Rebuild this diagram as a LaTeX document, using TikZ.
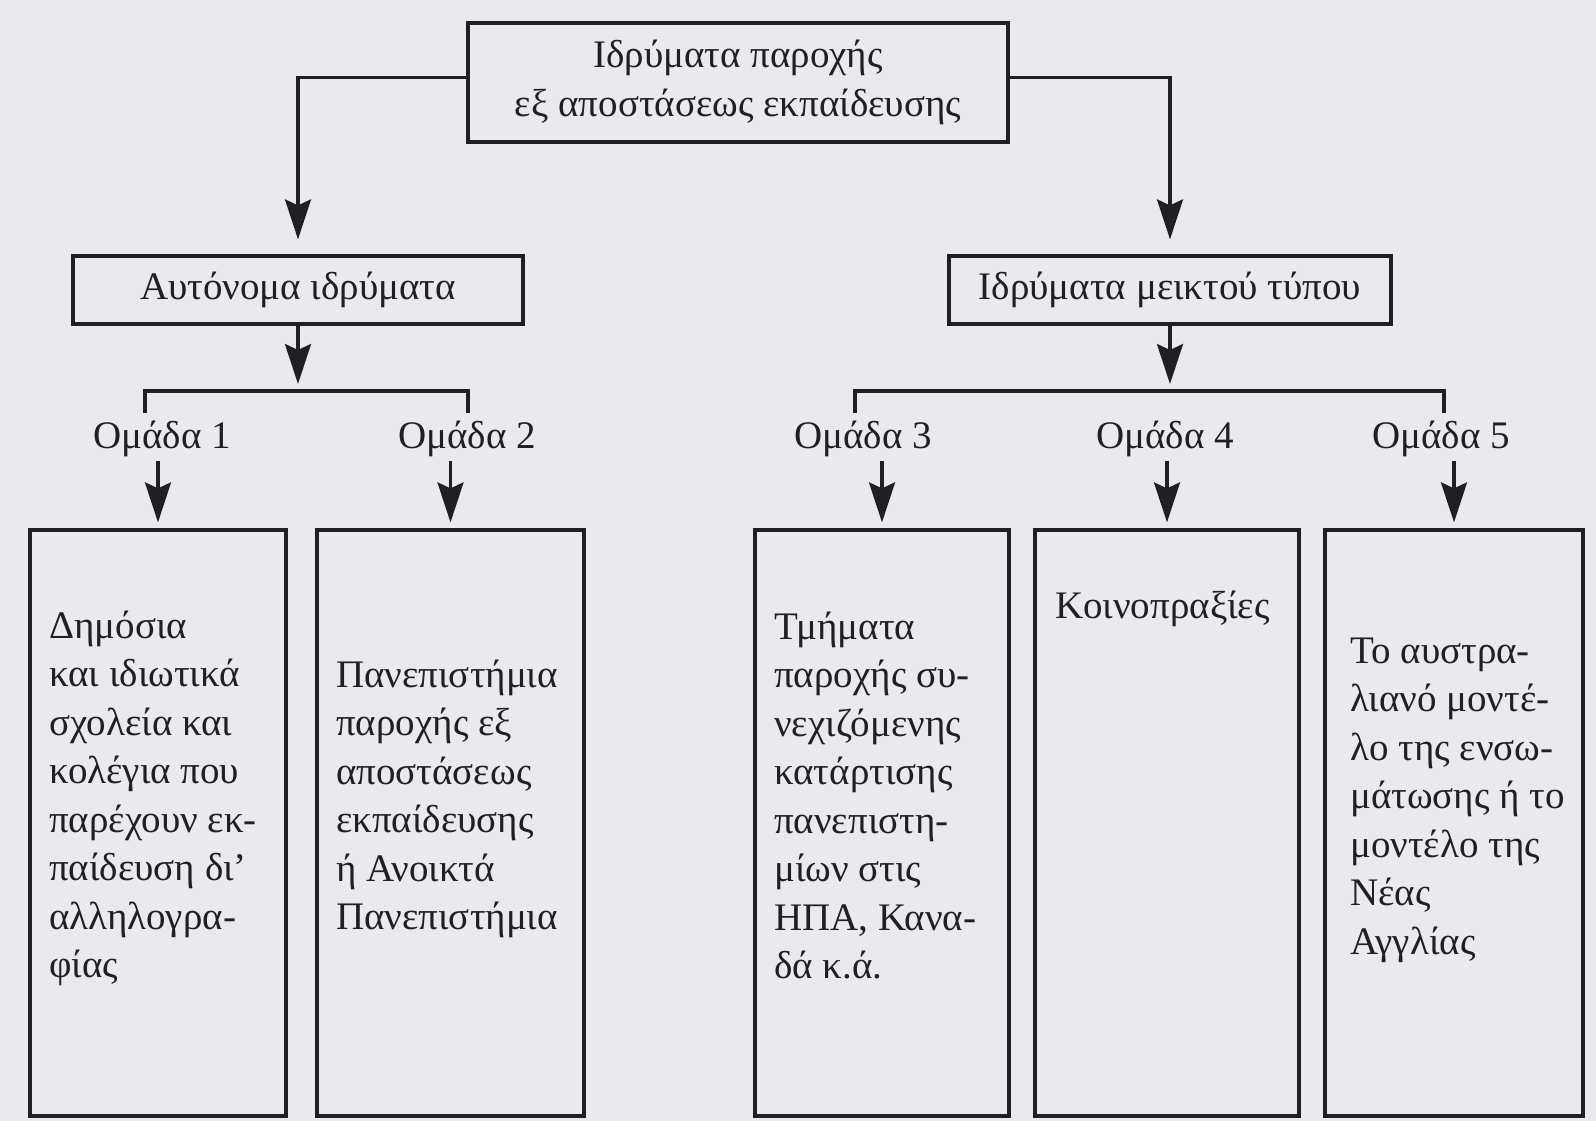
\documentclass[tikz,border=0pt]{standalone}
\usepackage{fontspec}
\setmainfont{Liberation Serif}
\usetikzlibrary{arrows.meta}
\definecolor{ink}{RGB}{32,32,36}
\definecolor{paper}{RGB}{233,233,238}
\begin{document}
\begin{tikzpicture}[x=1pt, y=-1pt,
    box/.style={draw=ink, line width=3.2pt, inner sep=0pt, text=ink, align=center,
        font=\fontsize{39}{48.5}\selectfont},
    txt/.style={text=ink, font=\fontsize{39}{48.5}\selectfont, inner sep=0pt,
        align=left, anchor=base west},
    lbl/.style={text=ink, font=\fontsize{39}{48.5}\selectfont, inner sep=4pt, anchor=base},
    lnk/.style={draw=ink, line width=3.2pt},
    arr/.style={lnk, -{Stealth[length=40pt, width=26pt, inset=6pt]}}]
    % Background
    \fill[paper] (0,0) rectangle (1596,1121);
    \useasboundingbox (0,0) rectangle (1596,1121);

    % Top box and the two kinds
    \node[box, minimum width=540, minimum height=119] (top) at (738,82.5)
        {Ιδρύματα παροχής\\εξ αποστάσεως εκπαίδευσης};
    \node[box, minimum width=450, minimum height=68] (auto) at (298,290) {Αυτόνομα ιδρύματα};
    \node[box, minimum width=442, minimum height=68] (mixed) at (1170,290) {Ιδρύματα μεικτού τύπου};

    \draw[arr, shorten >=15pt] ([yshift=5pt]top.west) -| (auto.north);
    \draw[arr, shorten >=15pt] ([yshift=5pt]top.east) -| (mixed.north);

    % Brackets
    \coordinate (l1) at (145,413);
    \coordinate (l2) at (468,413);
    \coordinate (r1) at (855,413);
    \coordinate (r2) at (1444,413);
    \draw[lnk] (l1) -- ++(0,-22) -| (l2);
    \draw[lnk] (r1) -- ++(0,-22) -| (r2);
    \draw[arr, shorten >=7pt] (auto.south) -- (auto.south |- 0,391);
    \draw[arr, shorten >=7pt] (mixed.south) -- (mixed.south |- 0,391);

    % Groups
    \foreach \i/\x in {1/162, 2/467, 3/863, 4/1165, 5/1441}
        \node[lbl] (g\i) at (\x,448) {Ομάδα \i};

    % Lower boxes
    \node[box, minimum width=256, minimum height=586] (b1) at (158,823) {};
    \node[box, minimum width=267, minimum height=586] (b2) at (450.5,823) {};
    \node[box, minimum width=254, minimum height=586] (b3) at (882,823) {};
    \node[box, minimum width=264, minimum height=586] (b4) at (1167,823) {};
    \node[box, minimum width=258, minimum height=586] (b5) at (1454,823) {};

    \foreach \i in {1,...,5}
        \draw[arr, shorten >=6pt] (g\i.south -| b\i.north) -- (b\i.north);

    % Texts (base = last line)
    \node[txt] (t1) at (49,977.5) {Δημόσια\\και ιδιωτικά\\σχολεία και\\κολέγια που\\παρέχουν εκ-\\παίδευση δι’\\αλληλογρα-\\φίας};
    \node[txt] (t2) at (336,929.5) {Πανεπιστήμια\\παροχής εξ\\αποστάσεως\\εκπαίδευσης\\ή Ανοικτά\\Πανεπιστήμια};
    \node[txt] (t3) at (774,978.5) {Τμήματα\\παροχής συ-\\νεχιζόμενης\\κατάρτισης\\πανεπιστη-\\μίων στις\\ΗΠΑ, Κανα-\\δά κ.ά.};
    \node[txt] (t4) at (1055,618) {Κοινοπραξίες};
    \node[txt] (t5) at (1350,954) {Το αυστρα-\\λιανό μοντέ-\\λο της ενσω-\\μάτωσης ή το\\μοντέλο της\\Νέας\\Αγγλίας};
\end{tikzpicture}
\end{document}
